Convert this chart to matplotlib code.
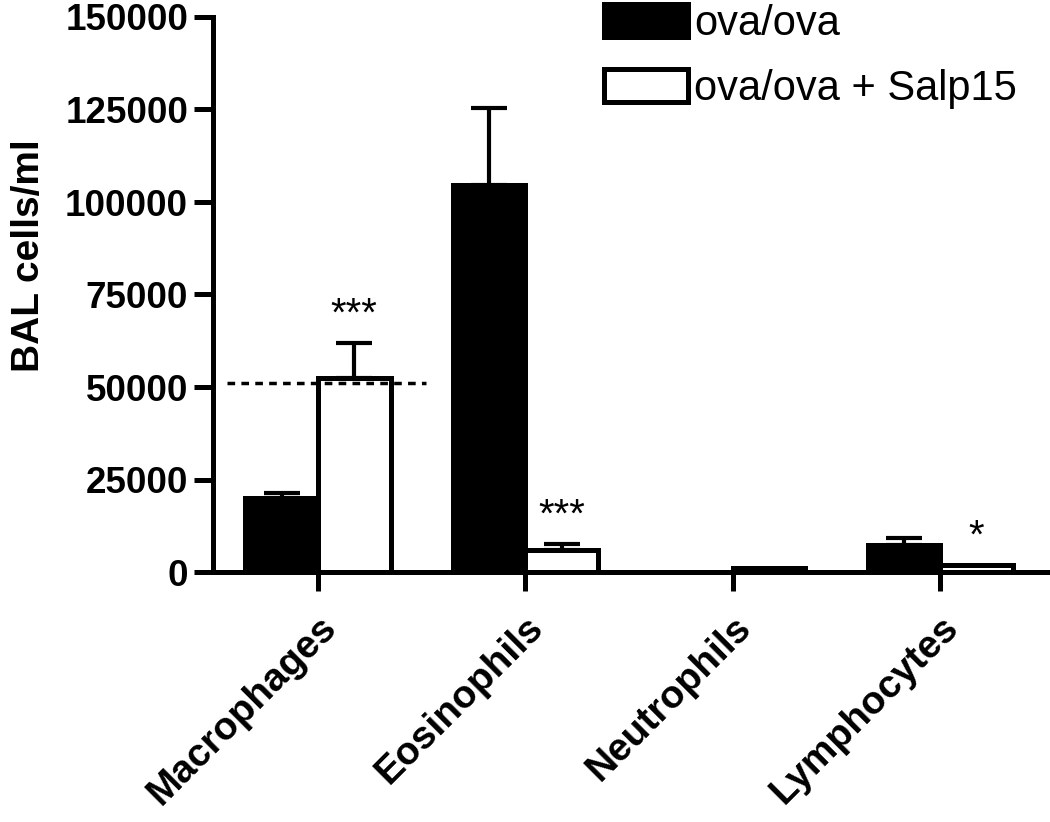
import matplotlib
matplotlib.use("Agg")
import matplotlib.pyplot as plt
from matplotlib.patches import Patch
import numpy as np

categories = ["Macrophages", "Eosinophils", "Neutrophils", "Lymphocytes"]
ova = [20000, 104500, 0, 7300]
ova_err = [1400, 21000, 0, 1800]
salp = [52500, 6000, 1000, 1800]
salp_err = [9500, 1600, 0, 0]
stars = ["***", "***", "", "*"]
ref_level = 51000
yticks = [0, 25000, 50000, 75000, 100000, 125000, 150000]
legend_labels = ["ova/ova", "ova/ova + Salp15"]

plt.rcParams['font.family'] = ['Liberation Sans', 'DejaVu Sans']

fig = plt.figure(figsize=(10.5, 8.22), dpi=100)
ax = fig.add_axes([213/1050, 1-572/822, 1-213/1050, (572-17)/822])

x = np.arange(len(categories))
w = 0.35
lw = 3.6
ax.bar(x - w/2, ova, w, color='black', edgecolor='black', linewidth=lw, zorder=3)
ax.bar(x + w/2, salp, w, color='white', edgecolor='black', linewidth=lw, zorder=3)

for xi, v, e in zip(x - w/2, ova, ova_err):
    if e > 0:
        ax.errorbar(xi, v, yerr=[[0], [e]], fmt='none', ecolor='black',
                    elinewidth=3, capsize=13, capthick=3, zorder=2)
for xi, v, e in zip(x + w/2, salp, salp_err):
    if e > 0:
        ax.errorbar(xi, v, yerr=[[0], [e]], fmt='none', ecolor='black',
                    elinewidth=3, capsize=13, capthick=3, zorder=2)

for xi, v, e, s in zip(x + w/2, salp, salp_err, stars):
    if s:
        ax.text(xi, v + e + 2500, s, ha='center', va='bottom', fontsize=29)

ax.plot([-0.44, 0.52], [ref_level, ref_level], linestyle=(0, (2.2, 1.8)),
        color='black', linewidth=2.5, zorder=4)

ax.set_xlim(-0.506, 3.53)
ax.set_ylim(0, 150000)
ax.set_yticks(yticks)
ax.set_yticklabels([str(t) for t in yticks], fontsize=26.5, fontweight='bold')
ax.set_xticks(x)
ax.set_xticklabels(categories, fontsize=28, fontweight='bold', rotation=45,
                   ha='right', rotation_mode='anchor')
ax.tick_params(axis='both', direction='out', length=14, width=3.6, pad=4)
ax.tick_params(axis='x', pad=13)
for s in ['top', 'right']:
    ax.spines[s].set_visible(False)
for s in ['left', 'bottom']:
    ax.spines[s].set_linewidth(3.6)
ax.spines['left'].set_zorder(5)
ax.spines['bottom'].set_zorder(5)
ax.set_ylabel("BAL cells/ml", fontsize=28, fontweight='bold')
ax.yaxis.set_label_coords(-0.198, 0.57)

handles = [Patch(facecolor='black', edgecolor='black', linewidth=3.6),
           Patch(facecolor='white', edgecolor='black', linewidth=3.6)]
leg = fig.legend(handles, legend_labels, loc='upper left',
                 bbox_to_anchor=(600/1050, 1.0), frameon=False, fontsize=30,
                 handlelength=2.0, handleheight=0.85, handletextpad=0.15,
                 labelspacing=0.6, borderaxespad=0, borderpad=0.1)

fig.savefig("out.png", dpi=100)
